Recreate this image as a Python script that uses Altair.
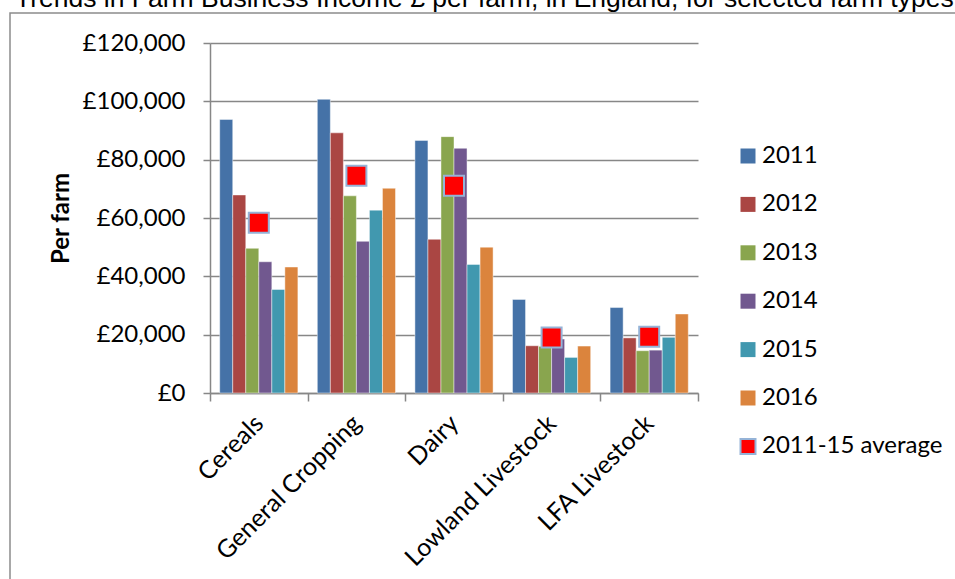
import altair as alt
import pandas as pd

# Farm Business Income per farm (GBP), England, by farm type and year
categories = ["Cereals", "General Cropping", "Dairy", "Lowland Livestock", "LFA Livestock"]
years = ["2011", "2012", "2013", "2014", "2015", "2016"]
income_2011 = [93800, 100700, 86600, 32100, 29300]
income_2012 = [67900, 89200, 52700, 16200, 18900]
income_2013 = [49600, 67600, 87900, 16000, 14500]
income_2014 = [45000, 52000, 83900, 18500, 14700]
income_2015 = [35500, 62700, 44100, 12200, 19100]
income_2016 = [43200, 70200, 50000, 16100, 27100]
average_2011_15 = [58400, 74500, 71100, 19000, 19300]

avg_label = "2011-15 average"
title_text = "Trends in Farm Business Income £ per farm, in England, for selected farm types"

series_by_year = [income_2011, income_2012, income_2013, income_2014, income_2015, income_2016]
year_colors = ["#4572A7", "#AA4643", "#89A54E", "#71588F", "#4198AF", "#DB843D"]

bars_df = pd.DataFrame(
    [
        {"category": c, "key": y, "value": v}
        for y, vals in zip(years, series_by_year)
        for c, v in zip(categories, vals)
    ]
)
avg_df = pd.DataFrame({"category": categories, "key": avg_label, "value": average_2011_15})
one_row = pd.DataFrame({"t": [title_text]})

GRAY = "#878787"
LABEL_FONT = "Lato"

color_scale = alt.Scale(domain=years + [avg_label], range=year_colors + ["#FF0000"])
x_scale = alt.Scale(domain=categories, paddingInner=0, paddingOuter=0)
y_scale = alt.Scale(domain=[0, 120000], nice=False)

x_axis = alt.Axis(
    title=None,
    tickBand="extent",
    labelAngle=315,
    labelAlign="right",
    labelBaseline="middle",
    labelFont=LABEL_FONT,
    labelFontSize=25,
    labelColor="#000000",
    labelPadding=18,
    labelLimit=300,
    tickSize=8,
    tickColor=GRAY,
    tickWidth=1.5,
    domainColor=GRAY,
    domainWidth=1.5,
    grid=False,
)
y_axis = alt.Axis(
    title="Per farm",
    titleFont=LABEL_FONT,
    titleFontSize=24,
    titleFontWeight="bold",
    titleColor="#000000",
    titleAngle=270,
    titleAlign="center",
    titleBaseline="middle",
    titleX=-149,
    titleY=175,
    values=[0, 20000, 40000, 60000, 80000, 100000, 120000],
    labelExpr="'£' + format(datum.value, ',')",
    labelFont=LABEL_FONT,
    labelFontSize=24,
    labelColor="#000000",
    labelPadding=18,
    tickSize=7,
    tickColor=GRAY,
    tickWidth=1.5,
    domainColor=GRAY,
    domainWidth=1.5,
    grid=True,
    gridColor=GRAY,
    gridWidth=1.5,
)

legend = alt.Legend(
    title=None,
    orient="none",
    legendX=526,
    legendY=101,
    padding=0,
    symbolType="square",
    symbolSize=225,
    symbolStrokeColor={"expr": f"datum.label == '{avg_label}' ? '#95B3D7' : null"},
    symbolStrokeWidth=2,
    labelFont=LABEL_FONT,
    labelFontSize=24,
    labelColor="#000000",
    labelOffset=2,
    labelLimit=300,
    rowPadding=24.4,
    symbolOpacity=1,
)

# Outer frame around the chart body (outline only)
frame = alt.Chart(one_row).mark_rect(filled=False, stroke="#8C8C8C", strokeWidth=1.5).encode(
    x=alt.value(-200), x2=alt.value(800), y=alt.value(-30), y2=alt.value(600)
)

title = alt.Chart(one_row).mark_text(
    align="left", baseline="alphabetic", font="Liberation Sans", fontSize=26.5, color="#000000"
).encode(text="t:N", x=alt.value(-195), y=alt.value(-36))

# Bars carry a faint pale outline
bars = alt.Chart(bars_df).mark_bar(stroke="#FFFFFF", strokeOpacity=0.45, strokeWidth=1).encode(
    x=alt.X("category:N", scale=x_scale, axis=x_axis, sort=categories),
    xOffset=alt.XOffset("key:N", scale=alt.Scale(domain=years, paddingInner=0, paddingOuter=0.745)),
    y=alt.Y("value:Q", scale=y_scale, axis=y_axis),
    color=alt.Color("key:N", scale=color_scale, legend=legend),
)

averages = alt.Chart(avg_df).mark_square(
    size=400, filled=True, stroke="#95B3D7", strokeWidth=2, opacity=1
).encode(
    x=alt.X("category:N", scale=x_scale, sort=categories),
    y=alt.Y("value:Q", scale=y_scale),
    color=alt.Color("key:N", scale=color_scale, legend=legend),
)

chart = (
    alt.layer(frame, bars, averages, title)
    .properties(
        width=488,
        height=350,
        autosize=alt.AutoSizeParams(type="none"),
        padding={"left": 210, "top": 43, "right": 257, "bottom": 186},
        background="white",
    )
    .configure_view(stroke=None)
)

chart.save("out.html", embed_options={"renderer": "svg", "actions": False})
